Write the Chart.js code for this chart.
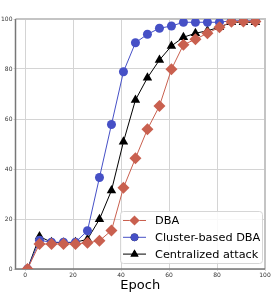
<!DOCTYPE html>
<html>
<head>
<meta charset="utf-8">
<script src="https://cdn.jsdelivr.net/npm/chart.js@4/dist/chart.umd.min.js"></script>
<style>
  html, body { margin: 0; padding: 0; background: #fff; }
  #wrap { width: 275px; height: 300px; }
</style>
</head>
<body>
<div id="wrap"><canvas id="chart" width="275" height="300"></canvas></div>
<script>
// epochs (x) and attack success rate (%) per method
const epochs = [1, 6, 11, 16, 21, 26, 31, 36, 41, 46, 51, 56, 61, 66, 71, 76, 81, 86, 91, 96];
const dba = [0, 10, 10, 10, 10, 10.5, 11.3, 15.4, 32.5, 44.3, 55.9, 65.2, 79.9, 89.7, 91.9, 94.3, 96.7, 98.9, 99, 99];
const clusterDba = [0, 11.5, 10.7, 10.7, 10.7, 15.3, 36.6, 57.8, 78.9, 90.5, 93.9, 96.3, 97.2, 98.7, 98.7, 98.7, 98.7, 99.3, 99.3, 99.3];
const centralized = [0, 13, 10.7, 10.5, 10.7, 11.9, 19.9, 31.4, 50.9, 67.6, 76.5, 83.6, 89.2, 92.7, 94.3, 95.3, 96.7, 98.7, 98.7, 98.7];
const seriesLabels = ['DBA', 'Cluster-based DBA', 'Centralized attack'];
const tickValues = [0, 20, 40, 60, 80, 100];

const red = '#c9604f';
const blue = '#4650c6';
const black = '#000000';

function pts(ys) {
  return epochs.map((x, i) => ({ x: x, y: ys[i] }));
}

// frame around the plot area (drawn under the lines)
const framePlugin = {
  id: 'frame',
  beforeDatasetsDraw(chart) {
    const { ctx, chartArea: a } = chart;
    ctx.save();
    ctx.strokeStyle = '#c4c4c4';
    ctx.lineWidth = 2;
    ctx.beginPath();
    ctx.moveTo(a.left, a.top);
    ctx.lineTo(a.right, a.top);
    ctx.lineTo(a.right, a.bottom);
    ctx.stroke();
    ctx.strokeStyle = '#777';
    ctx.lineWidth = 1.5;
    ctx.beginPath();
    ctx.moveTo(a.left, a.top);
    ctx.lineTo(a.left, a.bottom);
    ctx.lineTo(a.right, a.bottom);
    ctx.stroke();
    ctx.restore();
  }
};

// legend box inside the lower right corner
const legendPlugin = {
  id: 'insideLegend',
  afterDraw(chart) {
    const { ctx, chartArea: a } = chart;
    const x0 = 120, y0 = 211, w = a.right - 3 - x0, h = 52;
    ctx.save();
    ctx.fillStyle = 'rgba(255,255,255,0.85)';
    ctx.strokeStyle = '#d6d6d6';
    ctx.lineWidth = 1;
    ctx.beginPath();
    ctx.roundRect(x0 + 0.5, y0 + 0.5, w, h, 3);
    ctx.fill();
    ctx.stroke();
    ctx.font = '11.3px "DejaVu Sans"';
    ctx.textBaseline = 'middle';
    chart.data.datasets.forEach((ds, i) => {
      const y = y0 + 9.5 + i * 16.8;
      ctx.strokeStyle = ds.borderColor;
      ctx.lineWidth = 1;
      ctx.beginPath();
      ctx.moveTo(x0 + 3, y);
      ctx.lineTo(x0 + 26, y);
      ctx.stroke();
      Chart.helpers.drawPoint(ctx, {
        pointStyle: ds.pointStyle,
        radius: ds.pointRadius * 0.85,
        rotation: ds.rotation || 0,
        borderWidth: 0
      }, x0 + 14.5, y);
      ctx.fillStyle = ds.pointBackgroundColor;
      ctx.fill();
      ctx.fillStyle = '#000';
      ctx.fillText(ds.label, x0 + 35, y + 0.5);
    });
    ctx.restore();
  }
};

function line(label, ys, color, style, r, rot) {
  return {
    label: label,
    data: pts(ys),
    borderColor: color,
    backgroundColor: color,
    pointBackgroundColor: color,
    pointBorderColor: color,
    pointBorderWidth: 0,
    pointStyle: style,
    pointRadius: r,
    rotation: rot,
    borderWidth: 1,
    tension: 0
  };
}

new Chart(document.getElementById('chart'), {
  type: 'line',
  data: {
    datasets: [
      line(seriesLabels[0], dba, red, 'rectRot', 6, 0),
      line(seriesLabels[1], clusterDba, blue, 'circle', 4.5, 0),
      line(seriesLabels[2], centralized, black, 'triangle', 5.5, 0)
    ]
  },
  options: {
    responsive: false,
    animation: false,
    layout: { padding: { left: 0, right: 10, top: 19, bottom: 7 } },
    plugins: {
      legend: { display: false },
      tooltip: { enabled: false }
    },
    scales: {
      x: {
        type: 'linear',
        min: -4,
        max: 100,
        afterBuildTicks: (s) => { s.ticks = tickValues.map(v => ({ value: v })); },
        afterFit: (s) => { s.height = 24; },
        border: { display: false },
        grid: { color: '#d4d4d4', borderDash: [1.5, 1.5], tickLength: 2, drawTicks: true },
        ticks: { color: '#333', font: { size: 6, family: 'DejaVu Sans' }, padding: 1, maxRotation: 0 },
        title: { display: true, text: 'Epoch', color: '#000', font: { size: 13, family: 'DejaVu Sans' }, padding: { top: 0, bottom: 0 } }
      },
      y: {
        min: 0,
        max: 100,
        afterBuildTicks: (s) => { s.ticks = tickValues.map(v => ({ value: v })); },
        afterFit: (s) => { s.width = 15.5; },
        border: { display: false },
        grid: { color: '#d4d4d4', borderDash: [1.5, 1.5], tickLength: 2, drawTicks: true },
        ticks: { color: '#333', font: { size: 6, family: 'DejaVu Sans' }, padding: 1 }
      }
    }
  },
  plugins: [framePlugin, legendPlugin]
});
</script>
</body>
</html>
